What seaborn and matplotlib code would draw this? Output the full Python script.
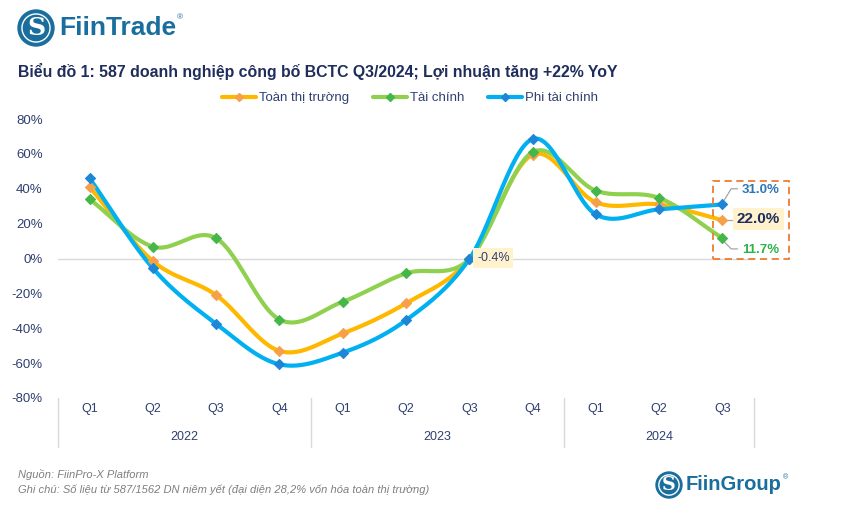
import numpy as np
import pandas as pd
import matplotlib
matplotlib.use("Agg")
import matplotlib.pyplot as plt
import matplotlib.transforms as mtransforms
from matplotlib.patches import Circle, Rectangle
from matplotlib.lines import Line2D
import seaborn as sns

sns.set_style("white")
plt.rcParams["font.family"] = ["Liberation Sans", "DejaVu Sans"]

# Data

quarters = ["Q1", "Q2", "Q3", "Q4", "Q1", "Q2", "Q3", "Q4", "Q1", "Q2", "Q3"]
years = ["2022", "2023", "2024"]
year_spans = [(0, 3), (4, 7), (8, 10)]
series_names = ["Toàn thị trường", "Tài chính", "Phi tài chính"]
toan_thi_truong = [41.0, -1.5, -21.0, -53.0, -43.0, -25.7, -0.4, 59.5, 32.2, 31.0, 22.0]
tai_chinh = [34.0, 6.8, 11.6, -35.0, -24.8, -8.5, -0.4, 61.0, 38.9, 34.7, 11.7]
phi_tai_chinh = [46.0, -5.6, -37.5, -60.7, -54.0, -35.4, -0.4, 68.5, 25.3, 28.2, 31.0]

line_colors = ["#FFB800", "#8FD14F", "#00B0F0"]
marker_colors = ["#F7A04B", "#45B649", "#1D86D6"]

# Smooth lines like Excel (Catmull-Rom)

def smooth(x, y, n=30):
    x = np.asarray(x, float)
    y = np.asarray(y, float)
    px = np.concatenate([[2 * x[0] - x[1]], x, [2 * x[-1] - x[-2]]])
    py = np.concatenate([[2 * y[0] - y[1]], y, [2 * y[-1] - y[-2]]])
    xs, ys = [], []
    t = np.linspace(0, 1, n)
    for i in range(1, len(px) - 2):
        for arr, out in ((px, xs), (py, ys)):
            p0, p1, p2, p3 = arr[i - 1], arr[i], arr[i + 1], arr[i + 2]
            m1 = (p2 - p0) / 2
            m2 = (p3 - p1) / 2
            h00 = 2 * t**3 - 3 * t**2 + 1
            h10 = t**3 - 2 * t**2 + t
            h01 = -2 * t**3 + 3 * t**2
            h11 = t**3 - t**2
            out.append(h00 * p1 + h10 * m1 + h01 * p2 + h11 * m2)
    return np.concatenate(xs), np.concatenate(ys)

xpos = np.arange(len(quarters))
all_values = [toan_thi_truong, tai_chinh, phi_tai_chinh]

smooth_frames = []
point_frames = []
for name, vals in zip(series_names, all_values):
    sx, sy = smooth(xpos, vals)
    smooth_frames.append(pd.DataFrame({"x": sx, "y": sy, "series": name}))
    point_frames.append(pd.DataFrame({"x": xpos, "y": vals, "series": name}))
smooth_df = pd.concat(smooth_frames, ignore_index=True)
point_df = pd.concat(point_frames, ignore_index=True)

# Figure

fig = plt.figure(figsize=(8.42, 5.18), dpi=100)
ax = fig.add_axes([58 / 842, 1 - 398 / 518, (754 - 58) / 842, (398 - 119) / 518])

ax.axhline(0, color="#D9D9D9", lw=1, zorder=0)

sns.lineplot(data=smooth_df, x="x", y="y", hue="series", palette=line_colors,
             hue_order=series_names, linewidth=3, legend=False, ax=ax, sort=False)
for name, mc in zip(series_names, marker_colors):
    sub = point_df[point_df["series"] == name]
    ax.scatter(sub["x"], sub["y"], marker="D", s=26, color=mc, edgecolor=mc,
               linewidth=0.8, zorder=5)

ax.set_xlim(-0.5, 10.5)
ax.set_ylim(-80, 80)
ax.set_yticks(np.arange(-80, 81, 20))
ax.set_yticklabels([f"{v}%" for v in range(-80, 81, 20)])
ax.set_xticks([])
ax.set_xlabel("")
ax.set_ylabel("")
ax.tick_params(axis="y", length=0, labelsize=9.5, labelcolor="#2F3F6F", pad=11)
for s in ax.spines.values():
    s.set_visible(False)

# Category axis (quarters + years)
trans = mtransforms.blended_transform_factory(ax.transData, ax.transAxes)
ax_h = 398 - 119
for i, q in enumerate(quarters):
    ax.text(i, -(409 - 398) / ax_h, q, transform=trans, ha="center", va="center",
            fontsize=9, color="#2F3F6F")
for yr, (a, b) in zip(years, year_spans):
    ax.text((a + b) / 2, -(437 - 398) / ax_h, yr, transform=trans, ha="center",
            va="center", fontsize=9, color="#2F3F6F")
for xb in [-0.5, 3.5, 7.5, 10.5]:
    ax.plot([xb, xb], [0, -(447 - 398) / ax_h], transform=trans, color="#D9D9D9",
            lw=1, clip_on=False)

# Annotations
ax.text(6.38, 0.3, "-0.4%", ha="center", va="center", fontsize=9, color="#2F3F6F",
        bbox=dict(boxstyle="square,pad=0.3", fc="#FFF2CC", ec="none"), zorder=7)

ax.add_patch(Rectangle((9.85, -0.3), 1.21, 44.7, fill=False, ec="#ED7D31",
                       lw=1.3, ls=(0, (4, 2.5)), clip_on=False, zorder=6))

lead = dict(color="#A6A6A6", lw=0.9, clip_on=False, zorder=4)
ax.plot([10.03, 10.14, 10.24], [33.5, 40.0, 40.0], **lead)
ax.plot([10.05, 10.16], [22.0, 22.0], **lead)
ax.plot([10.03, 10.14, 10.24], [9.5, 5.5, 5.5], **lead)

ax.text(10.6, 39.5, "31.0%", ha="center", va="center", fontsize=9.5,
        fontweight="bold", color="#2E75B6", clip_on=False)
ax.text(10.57, 22.5, "22.0%", ha="center", va="center", fontsize=11,
        fontweight="bold", color="#1F2D5C", clip_on=False,
        bbox=dict(boxstyle="square,pad=0.25", fc="#FFF2CC", ec="none"))
ax.text(10.6, 5.0, "11.7%", ha="center", va="center", fontsize=9.5,
        fontweight="bold", color="#2DB34A", clip_on=False)

# Legend
handles = [Line2D([0], [0], color=lc, lw=3, marker="D", markersize=4.5,
                  markerfacecolor=mc, markeredgecolor=mc)
           for lc, mc in zip(line_colors, marker_colors)]
fig.legend(handles, series_names, loc="center", bbox_to_anchor=(410 / 842, 1 - 98 / 518),
           ncol=3, frameon=False, fontsize=9.5, handlelength=2.6, handletextpad=0.2,
           columnspacing=1.8, labelcolor="#2F3F6F")

# Title
fig.text(18 / 842, 1 - 71 / 518,
         "Biểu đồ 1: 587 doanh nghiệp công bố BCTC Q3/2024; Lợi nhuận tăng +22% YoY",
         fontsize=11.4, fontweight="bold", color="#1F2D5C", va="center", ha="left")

# Logos
brand = "#1A6E9E"
def logo(cx, cy, r, text, tx, size, reg_size):
    fig.add_artist(Circle((cx / 100, (518 - cy) / 100), r / 100, color=brand,
                          transform=fig.dpi_scale_trans))
    fig.add_artist(Circle((cx / 100, (518 - cy) / 100), r * 0.78 / 100, fill=False,
                          ec="white", lw=1, transform=fig.dpi_scale_trans))
    fig.text(cx / 842, 1 - cy / 518, "S", fontsize=size * 0.95, family="DejaVu Serif",
             fontweight="bold", color="white", ha="center", va="center")
    t = fig.text(tx / 842, 1 - cy / 518, text, fontsize=size, fontweight="bold",
                 color=brand, ha="left", va="center")
    fig.canvas.draw()
    bb = t.get_window_extent()
    fig.text((bb.x1 + 1) / 842, (bb.y1 - 2) / 518, "®", fontsize=reg_size,
             color=brand, ha="left", va="center")

logo(36, 28, 18, "FiinTrade", 59, 19, 6)
logo(669, 485, 13, "FiinGroup", 686, 14.5, 5)

# Footer
fig.text(18 / 842, 1 - 475 / 518, "Nguồn: FiinPro-X Platform", fontsize=8,
         style="italic", color="#7F7F7F", va="center")
fig.text(18 / 842, 1 - 490 / 518,
         "Ghi chú: Số liệu từ 587/1562 DN niêm yết (đại diện 28,2% vốn hóa toàn thị trường)",
         fontsize=8, style="italic", color="#7F7F7F", va="center")

fig.savefig("out.png", dpi=100)
